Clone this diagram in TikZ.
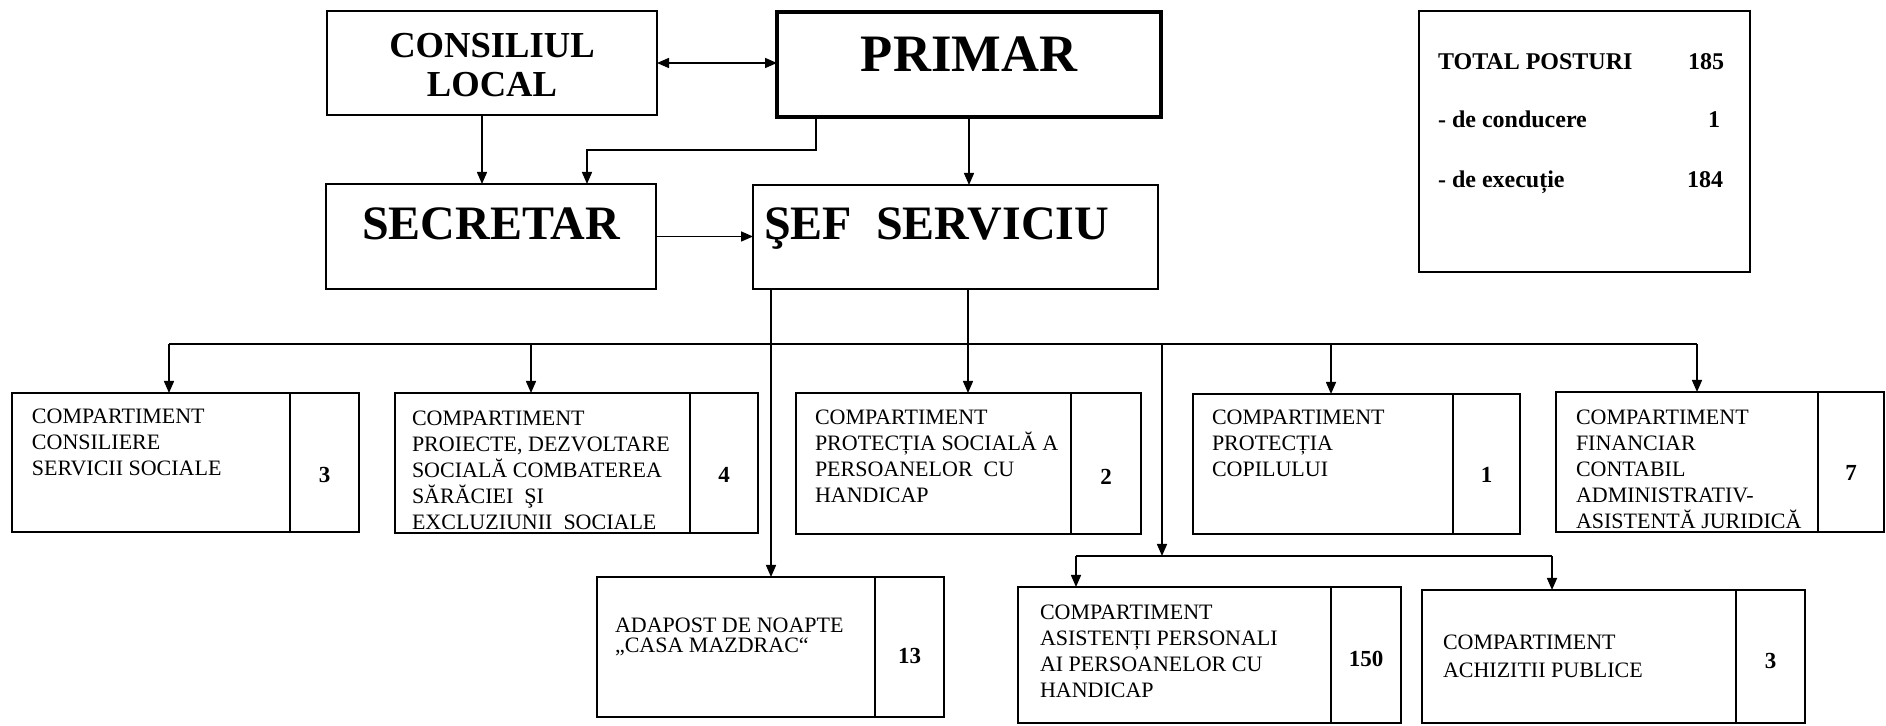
\documentclass[tikz,border=0pt]{standalone}
\usepackage{fontspec}
\setmainfont{Liberation Serif}
\usetikzlibrary{arrows.meta}
\newcommand{\mkbox}[6]{\node[#6, minimum width={0.5pt*(#4-#2)}, minimum height={0.5pt*(#5-#3)}] (#1) at ({(#2+#4)/2},{(#3+#5)/2}) {};}
\begin{document}
\begin{tikzpicture}[x=0.5pt,y=-0.5pt,
  every node/.style={inner sep=0pt, outer sep=0pt},
  box/.style={draw, line width=1pt, rectangle},
  thickbox/.style={draw, line width=1.8pt, rectangle},
  divline/.style={line width=1pt},
  >={Triangle[length=6pt,width=5pt]},
  conn/.style={line width=0.75pt, ->},
  busline/.style={line width=0.75pt},
  ctext/.style={anchor=north west, align=left, font=\fontsize{11}{13}\selectfont},
  num/.style={font=\fontsize{11.5}{13}\selectfont\bfseries},
  tot/.style={font=\fontsize{12}{14}\selectfont\bfseries}
]
\useasboundingbox (0,0) rectangle (1886,726);

% top boxes
\mkbox{cl}{327}{11}{657}{115}{box}
\mkbox{pr}{777}{12}{1161}{117}{thickbox}
\mkbox{sec}{326}{184}{656}{289}{box}
\mkbox{sef}{753}{185}{1158}{289}{box}
\mkbox{tot}{1419}{11}{1750}{272}{box}

% compartment boxes
\mkbox{c1}{12}{393}{359}{532}{box}
\mkbox{c2}{395}{393}{758}{533}{box}
\mkbox{c3}{796}{393}{1141}{534}{box}
\mkbox{c4}{1193}{394}{1520}{534}{box}
\mkbox{c5}{1556}{392}{1884}{532}{box}
\mkbox{ad}{597}{577}{944}{717}{box}
\mkbox{as}{1018}{587}{1401}{723}{box}
\mkbox{ac}{1422}{590}{1805}{723}{box}

% dividers
\draw[divline] (290,393) -- (290,532);
\draw[divline] (690,393) -- (690,533);
\draw[divline] (1071,393) -- (1071,534);
\draw[divline] (1453,394) -- (1453,534);
\draw[divline] (1818,392) -- (1818,532);
\draw[divline] (875,577) -- (875,717);
\draw[divline] (1331,587) -- (1331,723);
\draw[divline] (1736,590) -- (1736,723);

% titles
\node[font=\fontsize{18.3}{19.5}\selectfont\bfseries, align=center] (clt) at (492,65) {CONSILIUL\\LOCAL};
\node[font=\fontsize{26.3}{30}\selectfont\bfseries, anchor=base] (prt) at (969,72) {PRIMAR};
\node[font=\fontsize{24}{28}\selectfont\bfseries, anchor=base] (sect) at (491,240) {SECRETAR};
\node[font=\fontsize{24}{28}\selectfont\bfseries, anchor=base west] (seft) at (764,240) {ŞEF\ \ SERVICIU};

% totals
\node[tot, anchor=base west] (t1) at (1438,70) {TOTAL POSTURI};
\node[tot, anchor=base east] (n1) at (1724,70) {185};
\node[tot, anchor=base west] (t2) at (1438,128) {- de conducere};
\node[tot, anchor=base east] (n2) at (1720,128) {1};
\node[tot, anchor=base west] (t3) at (1438,188) {- de execuție};
\node[tot, anchor=base east] (n3) at (1723,188) {184};

% compartment texts
\node[ctext] (c1t) at (32,409) {COMPARTIMENT\\CONSILIERE\\SERVICII SOCIALE};
\node[ctext] (c2t) at (412,411) {COMPARTIMENT\\PROIECTE, DEZVOLTARE\\SOCIALĂ COMBATEREA\\SĂRĂCIEI\ \ ŞI\\EXCLUZIUNII\ \ SOCIALE};
\node[ctext] (c3t) at (815,410) {COMPARTIMENT\\PROTECȚIA SOCIALĂ A\\PERSOANELOR\ \ CU\\HANDICAP};
\node[ctext] (c4t) at (1212,410) {COMPARTIMENT\\PROTECȚIA\\COPILULUI};
\node[ctext] (c5t) at (1576,410) {COMPARTIMENT\\FINANCIAR\\CONTABIL\\ADMINISTRATIV-\\ASISTENTĂ JURIDICĂ};
\node[ctext, font=\fontsize{11}{10}\selectfont] (adt) at (615,618) {ADAPOST DE NOAPTE\\„CASA MAZDRAC“};
\node[ctext] (ast) at (1040,605) {COMPARTIMENT\\ASISTENȚI PERSONALI\\AI PERSOANELOR CU\\HANDICAP};
\node[ctext, font=\fontsize{11}{14}\selectfont] (act) at (1443,635) {COMPARTIMENT\\ACHIZITII PUBLICE};

% numbers
\node[num] (c1n) at (324.5,475) {3};
\node[num] (c2n) at (724,475) {4};
\node[num] (c3n) at (1106,477) {2};
\node[num] (c4n) at (1486.5,475) {1};
\node[num] (c5n) at (1851,473) {7};
\node[num] (adn) at (909.5,656) {13};
\node[num] (asn) at (1366,659) {150};
\node[num] (acn) at (1770.5,661) {3};

% connector coordinates
\coordinate (clx) at (482,0);
\coordinate (prx) at (816,0);
\coordinate (secx) at (587,0);
\coordinate (ely) at (0,150);
\coordinate (busx) at (968,0);
\coordinate (busy) at (0,344);
\coordinate (a1) at (169,0);
\coordinate (a2) at (531,0);
\coordinate (a4) at (1331,0);
\coordinate (a5) at (1697,0);
\coordinate (lx) at (1162,0);
\coordinate (bus2y) at (0,556);
\coordinate (b1) at (1076,0);
\coordinate (b2) at (1552,0);
\coordinate (adx) at (771,0);

% connectors
\draw[conn, <->] (cl.east) -- (cl.east -| pr.west);
\draw[conn] (cl.south -| clx) -- (sec.north -| clx);
\draw[conn] (pr.south -| prx) |- (secx |- ely) -- (sec.north -| secx);
\draw[conn] (pr.south) -- (pr.south |- sef.north);
\draw[conn] (sec.east) -- (sec.east -| sef.west);
\draw[conn] (sef.south -| busx) -- (c3.north -| busx);
\draw[busline] (a1 |- busy) -- (a5 |- busy);
\draw[conn] (a1 |- busy) -- (c1.north -| a1);
\draw[conn] (a2 |- busy) -- (c2.north -| a2);
\draw[conn] (a4 |- busy) -- (c4.north -| a4);
\draw[conn] (a5 |- busy) -- (c5.north -| a5);
\draw[conn] (lx |- busy) -- (lx |- bus2y);
\draw[busline] (b1 |- bus2y) -- (b2 |- bus2y);
\draw[conn] (b1 |- bus2y) -- (as.north -| b1);
\draw[conn] (b2 |- bus2y) -- (ac.north -| b2);
\draw[conn] (sef.south -| adx) -- (ad.north -| adx);
\end{tikzpicture}
\end{document}
